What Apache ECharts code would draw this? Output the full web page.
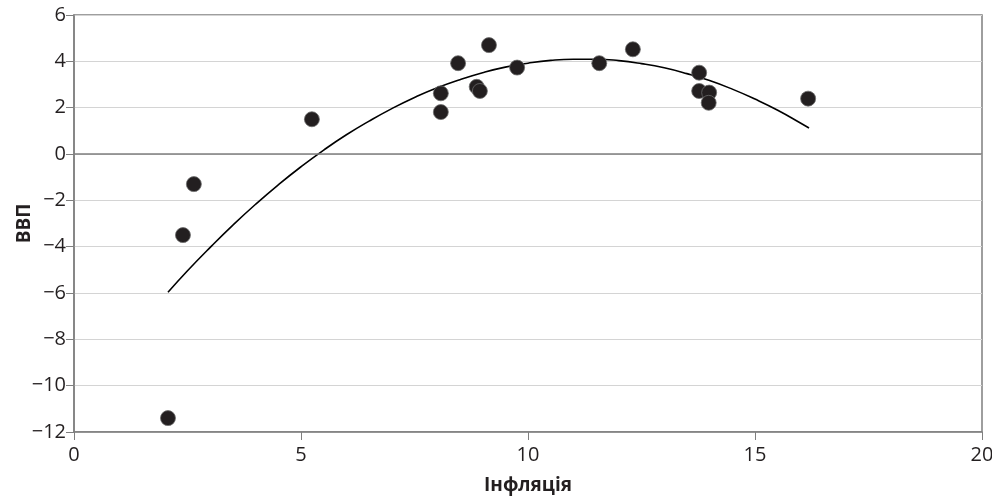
<!DOCTYPE html>
<html>
<head>
<meta charset="utf-8">
<script src="https://cdn.jsdelivr.net/npm/echarts@6/dist/echarts.min.js"></script>
<style>
  html, body { margin: 0; padding: 0; background: #fff; }
  #chart { width: 992px; height: 499px; }
</style>
</head>
<body>
<div id="chart"></div>
<script>
// inflation (x) vs GDP (y)
const inflation = [2.07, 2.4, 2.64, 5.24, 8.08, 8.08, 8.46, 8.87, 8.94, 9.14, 9.76, 11.57, 12.31, 13.77, 13.77, 13.99, 13.98, 16.17];
const gdp = [-11.4, -3.5, -1.3, 1.5, 2.62, 1.81, 3.92, 2.9, 2.72, 4.7, 3.73, 3.92, 4.52, 3.51, 2.72, 2.65, 2.21, 2.39];

// trend curve samples
const trendX = [2.07, 2.5, 3, 3.5, 4, 4.5, 5, 5.5, 6, 6.5, 7, 7.5, 8, 8.5, 9, 9.5, 10, 10.5, 11, 11.5, 12, 12.5, 13, 13.5, 14, 14.5, 15, 15.5, 16, 16.19];
const trendY = [-5.97, -5.04, -4.03, -3.07, -2.17, -1.33, -0.55, 0.17, 0.83, 1.42, 1.96, 2.44, 2.86, 3.21, 3.51, 3.75, 3.92, 4.04, 4.09, 4.09, 4.03, 3.9, 3.72, 3.47, 3.17, 2.8, 2.37, 1.89, 1.34, 1.12];

const fmtTick = (v) => (v < 0 ? '\u2212' + Math.abs(v) : String(v));

const chart = echarts.init(document.getElementById('chart'));

chart.setOption({
  animation: false,
  textStyle: { fontFamily: 'Open Sans', color: '#231f20' },
  grid: {
    left: 74, right: 10, top: 15, bottom: 67,
    outerBoundsMode: 'none',
    show: true,
    borderColor: '#7f7f7f',
    borderWidth: 1.5,
  },
  xAxis: {
    type: 'value',
    min: 0,
    max: 20,
    interval: 5,
    name: 'Інфляція',
    nameLocation: 'middle',
    nameGap: 44,
    nameMoveOverlap: false,
    nameTextStyle: { fontSize: 19, fontWeight: 'bold', color: '#231f20' },
    axisLine: { onZero: false, lineStyle: { color: '#7f7f7f', width: 1.5 } },
    axisTick: { show: true, length: 8, lineStyle: { color: '#7f7f7f' } },
    axisLabel: { fontSize: 20, color: '#231f20', margin: 13 },
    splitLine: { show: false },
  },
  yAxis: {
    type: 'value',
    min: -12,
    max: 6,
    interval: 2,
    name: 'ВВП',
    nameLocation: 'middle',
    nameGap: 40,
    nameMoveOverlap: false,
    nameTextStyle: { fontSize: 19, fontWeight: 'bold', color: '#231f20' },
    axisLine: { show: true, lineStyle: { color: '#7f7f7f', width: 1.5 } },
    axisTick: { show: true, length: 8, lineStyle: { color: '#7f7f7f' } },
    axisLabel: { fontSize: 20, color: '#231f20', margin: 8, formatter: fmtTick },
    splitLine: { show: true, lineStyle: { color: '#d4d4d4', width: 1 } },
  },
  series: [
    {
      type: 'line',
      data: trendX.map((x, i) => [x, trendY[i]]),
      smooth: true,
      symbol: 'none',
      lineStyle: { color: '#000', width: 1.6 },
      markLine: {
        silent: true,
        symbol: 'none',
        label: { show: false },
        lineStyle: { color: '#7f7f7f', width: 1.5, type: 'solid' },
        data: [{ yAxis: 0 }],
      },
      z: 3,
    },
    {
      type: 'scatter',
      data: inflation.map((x, i) => [x, gdp[i]]),
      symbolSize: 15,
      itemStyle: { color: '#231f20', borderColor: '#6b6b6b', borderWidth: 0.8, opacity: 1 },
      z: 4,
    },
  ],
});
</script>
</body>
</html>
